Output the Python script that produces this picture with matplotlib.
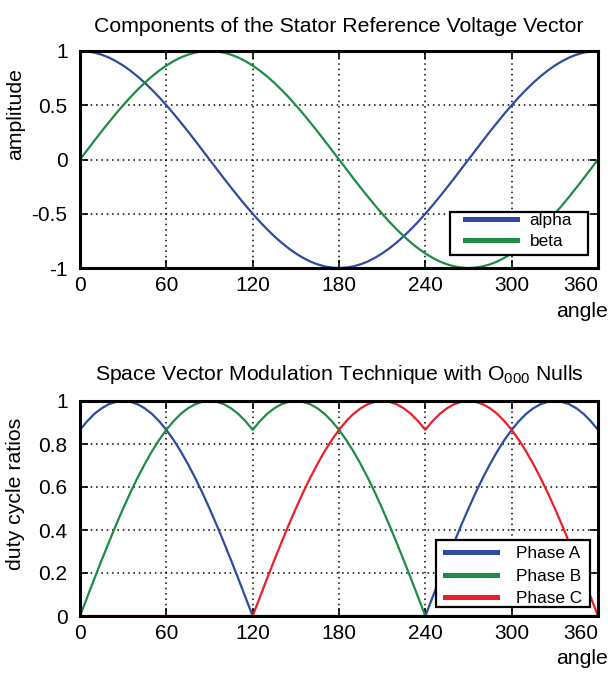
import matplotlib
matplotlib.use("Agg")
import matplotlib.pyplot as plt
from matplotlib.patches import Rectangle

plt.rcParams['font.family'] = ['Liberation Sans', 'DejaVu Sans']
plt.rcParams['mathtext.fontset'] = 'custom'
plt.rcParams['mathtext.rm'] = 'Liberation Sans'
plt.rcParams['mathtext.default'] = 'regular'

# ---- data (5-degree steps) ----
angle = list(range(0, 361, 5))

alpha = [1.000, 0.996, 0.985, 0.966, 0.940, 0.906, 0.866, 0.819, 0.766, 0.707, 0.643, 0.574, 0.500,
         0.423, 0.342, 0.259, 0.174, 0.087, 0.000, -0.087, -0.174, -0.259, -0.342, -0.423, -0.500,
         -0.574, -0.643, -0.707, -0.766, -0.819, -0.866, -0.906, -0.940, -0.966, -0.985, -0.996, -1.000,
         -0.996, -0.985, -0.966, -0.940, -0.906, -0.866, -0.819, -0.766, -0.707, -0.643, -0.574, -0.500,
         -0.423, -0.342, -0.259, -0.174, -0.087, 0.000, 0.087, 0.174, 0.259, 0.342, 0.423, 0.500,
         0.574, 0.643, 0.707, 0.766, 0.819, 0.866, 0.906, 0.940, 0.966, 0.985, 0.996, 1.000]

beta = [0.000, 0.087, 0.174, 0.259, 0.342, 0.423, 0.500, 0.574, 0.643, 0.707, 0.766, 0.819, 0.866,
        0.906, 0.940, 0.966, 0.985, 0.996, 1.000, 0.996, 0.985, 0.966, 0.940, 0.906, 0.866,
        0.819, 0.766, 0.707, 0.643, 0.574, 0.500, 0.423, 0.342, 0.259, 0.174, 0.087, 0.000,
        -0.087, -0.174, -0.259, -0.342, -0.423, -0.500, -0.574, -0.643, -0.707, -0.766, -0.819, -0.866,
        -0.906, -0.940, -0.966, -0.985, -0.996, -1.000, -0.996, -0.985, -0.966, -0.940, -0.906, -0.866,
        -0.819, -0.766, -0.707, -0.643, -0.574, -0.500, -0.423, -0.342, -0.259, -0.174, -0.087, 0.000]

phase_a = [0.866, 0.906, 0.940, 0.966, 0.985, 0.996, 1.000, 0.996, 0.985, 0.966, 0.940, 0.906, 0.866,
           0.819, 0.766, 0.707, 0.643, 0.574, 0.500, 0.423, 0.342, 0.259, 0.174, 0.087, 0.000,
           0.000, 0.000, 0.000, 0.000, 0.000, 0.000, 0.000, 0.000, 0.000, 0.000, 0.000, 0.000,
           0.000, 0.000, 0.000, 0.000, 0.000, 0.000, 0.000, 0.000, 0.000, 0.000, 0.000, 0.000,
           0.087, 0.174, 0.259, 0.342, 0.423, 0.500, 0.574, 0.643, 0.707, 0.766, 0.819, 0.866,
           0.906, 0.940, 0.966, 0.985, 0.996, 1.000, 0.996, 0.985, 0.966, 0.940, 0.906, 0.866]

phase_b = [0.000, 0.087, 0.174, 0.259, 0.342, 0.423, 0.500, 0.574, 0.643, 0.707, 0.766, 0.819, 0.866,
           0.906, 0.940, 0.966, 0.985, 0.996, 1.000, 0.996, 0.985, 0.966, 0.940, 0.906, 0.866,
           0.906, 0.940, 0.966, 0.985, 0.996, 1.000, 0.996, 0.985, 0.966, 0.940, 0.906, 0.866,
           0.819, 0.766, 0.707, 0.643, 0.574, 0.500, 0.423, 0.342, 0.259, 0.174, 0.087, 0.000,
           0.000, 0.000, 0.000, 0.000, 0.000, 0.000, 0.000, 0.000, 0.000, 0.000, 0.000, 0.000,
           0.000, 0.000, 0.000, 0.000, 0.000, 0.000, 0.000, 0.000, 0.000, 0.000, 0.000, 0.000]

phase_c = [0.000, 0.000, 0.000, 0.000, 0.000, 0.000, 0.000, 0.000, 0.000, 0.000, 0.000, 0.000, 0.000,
           0.000, 0.000, 0.000, 0.000, 0.000, 0.000, 0.000, 0.000, 0.000, 0.000, 0.000, 0.000,
           0.087, 0.174, 0.259, 0.342, 0.423, 0.500, 0.574, 0.643, 0.707, 0.766, 0.819, 0.866,
           0.906, 0.940, 0.966, 0.985, 0.996, 1.000, 0.996, 0.985, 0.966, 0.940, 0.906, 0.866,
           0.906, 0.940, 0.966, 0.985, 0.996, 1.000, 0.996, 0.985, 0.966, 0.940, 0.906, 0.866,
           0.819, 0.766, 0.707, 0.643, 0.574, 0.500, 0.423, 0.342, 0.259, 0.174, 0.087, 0.000]

x_ticks = [0, 60, 120, 180, 240, 300, 360]
y_ticks_top = [-1, -0.5, 0, 0.5, 1]
y_labels_top = ['-1', '-0.5', '0', '0.5', '1']
y_ticks_bot = [0, 0.2, 0.4, 0.6, 0.8, 1]
y_labels_bot = ['0', '0.2', '0.4', '0.6', '0.8', '1']

BLUE = '#2f4b9f'
GREEN = '#1d8c45'
RED = '#ea1f27'

W, H = 608, 673
fig = plt.figure(figsize=(W / 100, H / 100), dpi=100)
ax1 = fig.add_axes([80 / W, 1 - 268 / H, 518 / W, 217 / H])
ax2 = fig.add_axes([80 / W, 1 - 616 / H, 518 / W, 215 / H])

FS = 15
LFS = 15.3
LEGFS = 12.4


def style(ax, yticks, ylabels, ylim):
    ax.set_xlim(0, 360)
    ax.set_ylim(*ylim)
    ax.set_xticks(x_ticks)
    labs = ax.set_xticklabels([str(t) for t in x_ticks])
    labs[-1].set_horizontalalignment('right')
    ax.set_yticks(yticks)
    ax.set_yticklabels(ylabels)
    ax.grid(True, color='black', linestyle=(0, (1, 2.5)), linewidth=1.1)
    ax.tick_params(direction='in', top=True, right=True, length=6, width=1.2,
                   labelsize=FS, color='black')
    ax.tick_params(axis='x', pad=6)
    ax.tick_params(axis='y', pad=9)
    for s in ax.spines.values():
        s.set_linewidth(2.2)
        s.set_color('black')
    ax.set_xlabel('angle', fontsize=LFS, loc='right')
    ax.xaxis.set_label_coords(1 + 10 / 518, -0.155)


def framed_legend(ax, box, anchor, hlen, htpad, lspace):
    ax.add_patch(Rectangle((box[0], box[1]), box[2] - box[0], box[3] - box[1],
                           transform=ax.transAxes, facecolor='white', edgecolor='black',
                           linewidth=1.6, zorder=5))
    leg = ax.legend(loc='center left', bbox_to_anchor=anchor, fontsize=LEGFS,
                    frameon=False, handlelength=hlen, handletextpad=htpad,
                    borderpad=0, labelspacing=lspace, borderaxespad=0)
    leg.set_zorder(6)
    for l in leg.get_lines():
        l.set_linewidth(3.6)
    return leg


ax1.plot(angle, alpha, color=BLUE, lw=1.6, label='alpha')
ax1.plot(angle, beta, color=GREEN, lw=1.6, label='beta')
style(ax1, y_ticks_top, y_labels_top, (-1, 1))
ax1.set_title('Components of the Stator Reference Voltage Vector', fontsize=LFS, pad=14)
ax1.set_ylabel('amplitude', fontsize=LFS)
ax1.yaxis.set_label_coords(-0.106, 0.71)
framed_legend(ax1, (0.714, 0.060, 0.981, 0.258), (0.743, 0.1705), 3.0, 0.75, 0.33)

ax2.plot(angle, phase_a, color=BLUE, lw=1.6, label='Phase A')
ax2.plot(angle, phase_b, color=GREEN, lw=1.6, label='Phase B')
ax2.plot(angle, phase_c, color=RED, lw=1.6, label='Phase C')
style(ax2, y_ticks_bot, y_labels_bot, (0, 1))
ax2.set_title('Space Vector Modulation Technique with O$_{000}$ Nulls', fontsize=LFS, pad=15)
ax2.set_ylabel('duty cycle ratios', fontsize=LFS)
ax2.yaxis.set_label_coords(-0.106, 0.567)
framed_legend(ax2, (0.687, 0.042, 0.985, 0.353), (0.705, 0.186), 3.0, 1.1, 0.45)

fig.savefig('out.png', dpi=100)
